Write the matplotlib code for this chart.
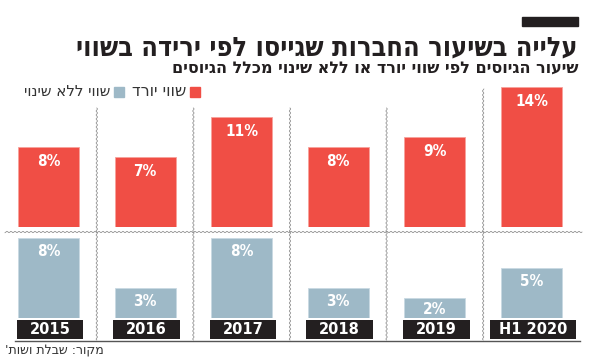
import numpy as np
import matplotlib
matplotlib.use("Agg")
import matplotlib.pyplot as plt
from matplotlib.patches import Rectangle

years = ["2015", "2016", "2017", "2018", "2019", "H1 2020"]
down_vals = [8, 7, 11, 8, 9, 14]      # שווי יורד
flat_vals = [8, 3, 8, 3, 2, 5]        # שווי ללא שינוי

title = "עלייה בשיעור החברות שגייסו לפי ירידה בשווי"
subtitle = "שיעור הגיוסים לפי שווי יורד או ללא שינוי מכלל הגיוסים"
leg_down = "שווי יורד"
leg_flat = "שווי ללא שינוי"
source = "מקור: שבלת ושות'"

RED = "#f04e45"
BLUE = "#9eb9c7"
DARK = "#231f20"

W, H = 590, 364


def rtl(s):
    return s[::-1]


def fx(p):
    return p / W


def fy(p):
    return 1 - p / H


plt.rcParams['font.family'] = ['DejaVu Sans']

fig = plt.figure(figsize=(W / 100, H / 100), dpi=100)

x = np.arange(len(years))
xl = (-0.502, 5.606)

# background axes in pixel y for separators
bg = fig.add_axes([0, 0, 1, 1], zorder=0)
bg.set_xlim(*xl)
bg.set_ylim(H, 0)
bg.axis("off")

ux = (xl[1] - xl[0]) / W  # data units per px
for i in range(len(years) - 1):
    top = 89 if i == len(years) - 2 else 108
    yy = np.linspace(top, 340, 300)
    xx = i + 0.5 + 0.7 * ux * np.sin(yy * 2 * np.pi / 4)
    bg.plot(xx, yy, color="#8a8a8a", lw=0.55)
xs = np.linspace(5, 582, 600)
bg.plot(xl[0] + xs * ux, 232 + 0.7 * np.sin(xs * 2 * np.pi / 4), color="#8a8a8a", lw=0.55)
bg.plot([xl[0] + 15 * ux, xl[0] + 580 * ux], [341, 341], color="#555555", lw=1)

# top panel: falling valuation
ax1 = fig.add_axes([0, fy(227), 1, 147 / H], zorder=1)
ax1.patch.set_alpha(0)
ax1.set_xlim(*xl)
ax1.set_ylim(0, 14.7)
ax1.axis("off")
ax1.bar(x, down_vals, width=0.63, color=RED, edgecolor="#f7a29c", lw=0.6)
for xi, v in zip(x, down_vals):
    ax1.text(xi, v - 1.5, f"{v}%", color="white", ha="center", va="center",
             fontsize=11, fontweight="bold", fontstretch="condensed")

# bottom panel: unchanged valuation
ax2 = fig.add_axes([0, fy(318), 1, 88 / H], zorder=1)
ax2.patch.set_alpha(0)
ax2.set_xlim(*xl)
ax2.set_ylim(0, 8.8)
ax2.axis("off")
ax2.bar(x, flat_vals, width=0.63, color=BLUE, edgecolor="#c9d9e2", lw=0.6)
for xi, v in zip(x, flat_vals):
    ax2.text(xi, v - min(1.4, v * 0.55), f"{v}%", color="white", ha="center", va="center",
             fontsize=11, fontweight="bold", fontstretch="condensed")

box_w = [0.69] * 5 + [0.89]
ax2.bar(x + 0.015, -1.9, bottom=-0.2, width=box_w, color=DARK, clip_on=False)
for xi, lab in zip(x, years):
    ax2.text(xi + 0.015, -1.15, lab, color="white", ha="center", va="center",
             fontsize=10.5, fontweight="bold", clip_on=False)

# titles
fig.patches.append(Rectangle((fx(522), fy(26)), fx(56), 9 / H, color=DARK,
                             transform=fig.transFigure))
fig.text(fx(578), fy(55), rtl(title), ha="right", va="baseline", fontsize=19.4,
         fontweight="bold", fontstretch="condensed", color=DARK)
fig.text(fx(578), fy(73), rtl(subtitle), ha="right", va="baseline", fontsize=11.5,
         fontweight="bold", color=DARK)

# legend
fig.patches.append(Rectangle((fx(190), fy(97)), fx(10), 10 / H, color=RED,
                             transform=fig.transFigure))
fig.text(fx(186), fy(92), rtl(leg_down), ha="right", va="center", fontsize=11.5, color="#333333")
fig.patches.append(Rectangle((fx(114), fy(97)), fx(10), 10 / H, color=BLUE,
                             transform=fig.transFigure))
fig.text(fx(110), fy(92), rtl(leg_flat), ha="right", va="center", fontsize=10.8, color="#333333")

fig.text(fx(5), fy(351), rtl(source), ha="left", va="center", fontsize=9, color="#333333")

fig.savefig("out.png", dpi=100)
